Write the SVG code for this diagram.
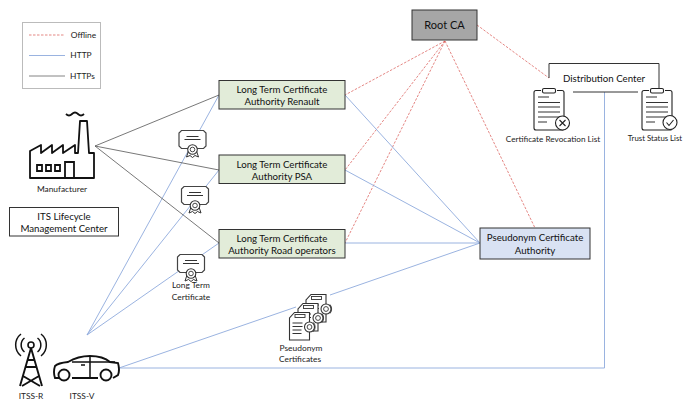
<svg xmlns="http://www.w3.org/2000/svg" width="683" height="402" viewBox="0 0 683 402">
<style>
text{font-family:Lato,"Open Sans","Liberation Sans",sans-serif;fill:#222;text-anchor:middle;font-size:8.4px}
.b{font-size:9.7px;fill:#111}
.box{stroke:#333;stroke-width:1}
.off{fill:none;stroke:#d9534f;stroke-width:.7;stroke-dasharray:2.5 1.5}
.http{fill:none;stroke:#8faadc;stroke-width:.9}
.https{fill:none;stroke:#555;stroke-width:.8}
.ic{fill:#fff;stroke:#111;stroke-width:1.8;stroke-linejoin:round}
.ln{fill:none;stroke:#333;stroke-width:1.1}
</style>
<defs>
<g id="cert">
<path d="M3 0.500H25L27.500 3V16L25 18.500H3L0.500 16V3Z" fill="#fff" stroke="#444" stroke-width="1.200"/>
<path d="M8 6.500H20M6 9.500H22" class="ln"/>
<path d="M10 21L8 27L11.500 25.500L14 27.500L16.500 25.500L20 27L18 21" fill="#fff" stroke="#333" stroke-width="1"/>
<circle cx="14" cy="19.500" r="4.800" fill="#fff" stroke="#333" stroke-width="1.100"/>
<circle cx="14" cy="19.500" r="2.300" fill="none" stroke="#333" stroke-width=".9"/>
</g>
<g id="doc">
<path d="M6 0.500H21V28H1V6Z" fill="#fff" stroke="#333" stroke-width="1.100"/>
<rect x="6.500" y="2.500" width="10" height="3" fill="#fff" stroke="#333" stroke-width=".9"/>
<path d="M4 11H14M4 14.500H14M4 18H13M4 21.500H13" class="ln"/>
<circle cx="21" cy="15" r="5" fill="#fff" stroke="#333" stroke-width="1.100"/>
<circle cx="21" cy="15" r="2.400" fill="none" stroke="#333" stroke-width=".9"/>
<path d="M25 10.500a7 7 0 0 1 0 9" fill="none" stroke="#333" stroke-width=".9"/>
</g>
<g id="clip">
<path d="M8 0.500H3Q1 0.500 1 2.500V38Q1 40 3 40H29Q31 40 31 38V2.500Q31 0.500 29 0.500H24" fill="#fff" stroke="#222" stroke-width="1.100"/>
<rect x="9.500" y="-1.500" width="13" height="4.500" rx="1.500" fill="#fff" stroke="#222" stroke-width="1.100"/>
<path d="M5 7H16M5 12.500H27M5 17H27M5 22H27M5 27H27M5 32H14" class="ln"/>
</g>
</defs>

<g id="connectors">
<path class="off" d="M477 25L549 78M445 41L345 95M445 41L345 170M445 41L345 243M445 41L535 228"/>
<path class="http" d="M345 95L480 243M345 170L480 243M345 243L480 243M119 368L296 307M330 295L480 243M119 368H604.500V92"/>
<path class="http" d="M87 335L219 95M87 335L219 170M87 335L219 243"/>
<path class="https" d="M95 146L219 95M95 146L219 170M95 146L219 243"/>
<path fill="none" stroke="#333" stroke-width="1" d="M549 78V63.500H659V88M573 92H638"/>
</g>

<g id="legend">
<rect x="22.500" y="22.500" width="78" height="66" fill="#fff" stroke="#bbb" stroke-width="1"/>
<path class="off" d="M29 35H65"/><path class="http" d="M29 55.500H65"/><path d="M29 76H65" fill="none" stroke="#777" stroke-width=".9"/>
<text x="83.500" y="38">Offline</text><text x="81" y="58">HTTP</text><text x="82.500" y="79">HTTPs</text>
</g>

<g id="manufacturer">
<path class="ic" d="M30 151L41 145V153L52 145V153L63 145V153L75 145V153H78L80 121H87L89 153H94V178H30Z"/>
<path d="M66 114q3 3 6 0t6 0t6 0" fill="none" stroke="#111" stroke-width="1.800"/>
<path d="M37 165h5v6h-5zM46 165h5v6h-5zM55 165h5v6h-5zM65 178V162h9v16" fill="none" stroke="#111" stroke-width="1.800"/>
<text x="62" y="192">Manufacturer</text>
</g>

<g id="its-lifecycle">
<rect class="box" x="9.500" y="207.500" width="109" height="28.500" fill="#fff"/>
<text class="b" x="64" y="220">ITS Lifecycle</text><text class="b" x="64" y="232">Management Center</text>
</g>

<g id="cert-1"><use href="#cert" x="178.500" y="130"/></g>
<g id="cert-2"><use href="#cert" x="181" y="186"/></g>
<g id="cert-3"><use href="#cert" x="177" y="254"/><text x="191" y="288">Long Term</text><text x="191" y="300">Certificate</text></g>

<g id="ltca-renault"><rect class="box" x="219" y="80.500" width="126" height="28.500" fill="#e2ecd9"/>
<text class="b" x="282" y="93">Long Term Certificate</text><text class="b" x="282" y="105">Authority Renault</text></g>
<g id="ltca-psa"><rect class="box" x="219" y="155" width="126" height="28.500" fill="#e2ecd9"/>
<text class="b" x="282" y="167.500">Long Term Certificate</text><text class="b" x="282" y="179.500">Authority PSA</text></g>
<g id="ltca-road"><rect class="box" x="219" y="229.500" width="126" height="28.500" fill="#e2ecd9"/>
<text class="b" x="282" y="242">Long Term Certificate</text><text class="b" x="282" y="254">Authority Road operators</text></g>

<g id="root-ca"><rect class="box" x="412" y="10" width="65" height="30" fill="#a6a6a6"/>
<text x="444.500" y="29" style="font-size:11px;fill:#111">Root CA</text></g>

<g id="pca"><rect class="box" x="480" y="228" width="110" height="31" fill="#d9e2f3"/>
<text class="b" x="535" y="241">Pseudonym Certificate</text><text class="b" x="535" y="253.500">Authority</text></g>

<g id="distribution-center"><text class="b" x="604" y="82">Distribution Center</text></g>

<g id="crl"><use href="#clip" x="533" y="90"/>
<circle cx="562.500" cy="123" r="7" fill="#fff" stroke="#222" stroke-width="1.100"/>
<path d="M559.500 120l6 6M565.500 120l-6 6" fill="none" stroke="#222" stroke-width="1.100"/>
<text x="553" y="142" style="font-size:8.200px">Certificate Revocation List</text></g>

<g id="tsl"><use href="#clip" x="641" y="90"/>
<circle cx="670" cy="122.500" r="7" fill="#fff" stroke="#222" stroke-width="1.100"/>
<path d="M666.500 122.500l2.500 3l4.500 -5.500" fill="none" stroke="#222" stroke-width="1.100"/>
<text x="655" y="141" style="font-size:7.800px">Trust Status List</text></g>

<g id="pseudonym-certs">
<use href="#doc" x="305" y="294"/><use href="#doc" x="297" y="303"/><use href="#doc" x="288.500" y="312"/>
<text x="301" y="351">Pseudonym</text><text x="300" y="362">Certificates</text>
</g>

<g id="itss-r">
<path d="M31 348L20 386M31 348L42 386M25 367H37M23 376L40 386M39 376L22 386M27 360H35" fill="none" stroke="#111" stroke-width="1.900"/>
<circle cx="31" cy="345" r="3" fill="#fff" stroke="#111" stroke-width="1.600"/>
<path d="M24.500 338a9 9 0 0 0 0 14M37.500 338a9 9 0 0 1 0 14M21 334a14 14 0 0 0 0 22M41 334a14 14 0 0 1 0 22" fill="none" stroke="#111" stroke-width="1.500"/>
<text x="31" y="399">ITSS-R</text>
</g>

<g id="itss-v">
<path d="M60 378H55Q53 372 55 366Q58 363 68 362Q78 356 90 356Q103 356 110 362L118 363Q120 370 118 375L113 378M98 378H72" fill="#fff" stroke="#111" stroke-width="1.900"/>
<path d="M72 362H115M90 356V377M81 365H85" fill="none" stroke="#111" stroke-width="1.500"/>
<circle cx="64" cy="375" r="5.500" fill="#fff" stroke="#111" stroke-width="1.900"/>
<circle cx="106" cy="375" r="5.500" fill="#fff" stroke="#111" stroke-width="1.900"/>
<text x="82" y="399">ITSS-V</text>
</g>
</svg>
